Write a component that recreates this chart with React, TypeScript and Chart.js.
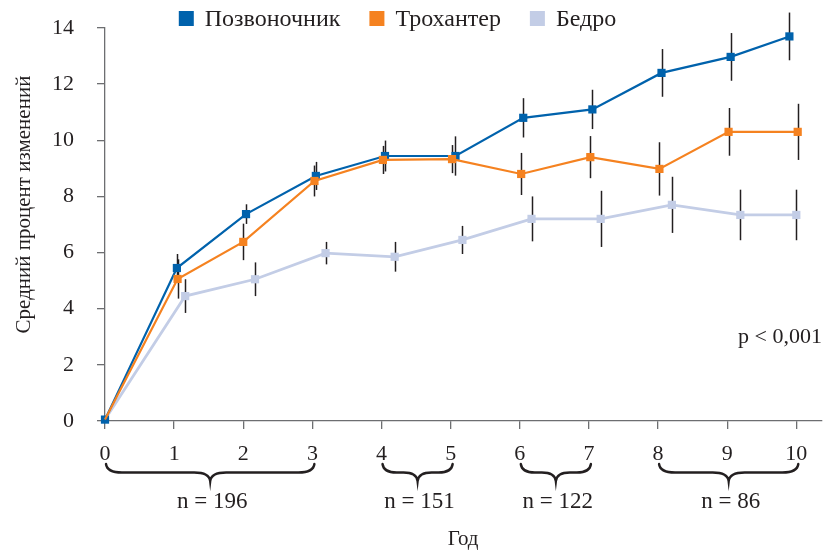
import React, { useEffect, useRef } from 'react';
import { Chart, registerables } from 'chart.js';

Chart.register(...registerables);

const seriesNames = ['Позвоночник', 'Трохантер', 'Бедро'];
const seriesColors = ['#0062AC', '#F58220', '#C3CDE6'];
const seriesLineWidths = [2.2, 2.2, 2.8];

const yearTicks = [0, 1, 2, 3, 4, 5, 6, 7, 8, 9, 10];

const spineX = [0, 1.04, 2.04, 3.05, 4.05, 5.07, 6.05, 7.05, 8.05, 9.05, 9.9];
const spineY = [0.05, 5.45, 7.37, 8.73, 9.44, 9.44, 10.8, 11.1, 12.4, 12.97, 13.7];
const spineErr = [0, 0.5, 0.35, 0.5, 0.55, 0.7, 0.7, 0.7, 0.85, 0.85, 0.85];

const trochX = [0, 1.05, 2.0, 3.03, 4.02, 5.02, 6.02, 7.02, 8.02, 9.02, 10.02];
const trochY = [0.05, 5.06, 6.38, 8.55, 9.3, 9.33, 8.8, 9.4, 8.98, 10.3, 10.3];
const trochErr = [0, 0.7, 0.65, 0.55, 0.5, 0.5, 0.75, 0.75, 0.95, 0.85, 1.0];

const hipX = [0, 1.16, 2.17, 3.19, 4.19, 5.17, 6.17, 7.17, 8.2, 9.19, 10.0];
const hipY = [0.05, 4.45, 5.05, 5.98, 5.85, 6.45, 7.2, 7.2, 7.7, 7.34, 7.34];
const hipErr = [0, 0.6, 0.6, 0.4, 0.53, 0.5, 0.8, 1.0, 1.0, 0.9, 0.9];

const groupStart = [0, 4, 6, 8];
const groupEnd = [3, 5, 7, 10];
const groupLabels = ['n = 196', 'n = 151', 'n = 122', 'n = 86'];

const yTitle = 'Средний процент изменений';
const xTitle = 'Год';
const pText = 'p < 0,001';
const pTextPos = { x: 10.37, y: 3.0 };

const FONT = "'Liberation Serif', 'Times New Roman', serif";
const TEXT = '#231F20';
const AXIS = '#6d6e71';

function drawBrace(ctx: CanvasRenderingContext2D, x1: number, x2: number, y: number, h: number) {
  const mid = (x1 + x2) / 2;
  const ym = y + h * 0.5;
  const r = Math.min(16, (x2 - x1) / 5);
  ctx.beginPath();
  ctx.moveTo(x1, y);
  ctx.quadraticCurveTo(x1 + 1, ym, x1 + r, ym);
  ctx.lineTo(mid - r, ym);
  ctx.quadraticCurveTo(mid - 1, ym, mid, y + h);
  ctx.quadraticCurveTo(mid + 1, ym, mid + r, ym);
  ctx.lineTo(x2 - r, ym);
  ctx.quadraticCurveTo(x2 - 1, ym, x2, y);
  ctx.stroke();
}

const errorBarPlugin = {
  id: 'errorBars',
  beforeDatasetsDraw(chart: any) {
    const ctx = chart.ctx;
    const xs = chart.scales.x;
    const ys = chart.scales.y;
    ctx.save();
    ctx.strokeStyle = TEXT;
    ctx.lineWidth = 1.5;
    chart.data.datasets.forEach((ds: any) => {
      const errs: number[] = ds.errors || [];
      ds.data.forEach((p: any, i: number) => {
        const e = errs[i];
        if (!e) return;
        const px = Math.round(xs.getPixelForValue(p.x)) + 0.5;
        ctx.beginPath();
        ctx.moveTo(px, ys.getPixelForValue(p.y + e));
        ctx.lineTo(px, ys.getPixelForValue(p.y - e));
        ctx.stroke();
      });
    });
    ctx.restore();
  },
};

const decorPlugin = {
  id: 'decor',
  afterDraw(chart: any) {
    const ctx: CanvasRenderingContext2D = chart.ctx;
    const xs = chart.scales.x;
    const ys = chart.scales.y;
    const area = chart.chartArea;
    ctx.save();
    ctx.fillStyle = TEXT;
    ctx.strokeStyle = TEXT;

    // braces and n labels
    ctx.lineWidth = 2.4;
    ctx.lineCap = 'round';
    ctx.font = `23px ${FONT}`;
    ctx.textAlign = 'center';
    ctx.textBaseline = 'middle';
    groupStart.forEach((s, i) => {
      const x1 = xs.getPixelForValue(s) + 1;
      const x2 = xs.getPixelForValue(groupEnd[i]) + 2;
      drawBrace(ctx, x1, x2, area.bottom + 43, 17);
      ctx.fillText(groupLabels[i], (x1 + x2) / 2 + 2, area.bottom + 81);
    });

    // x title
    ctx.font = `21px ${FONT}`;
    ctx.fillText(xTitle, (area.left + area.right) / 2, area.bottom + 118);

    // p text
    ctx.font = `22px ${FONT}`;
    ctx.textAlign = 'right';
    ctx.fillText(pText, xs.getPixelForValue(pTextPos.x), ys.getPixelForValue(pTextPos.y));

    // y title
    ctx.font = `21px ${FONT}`;
    ctx.save();
    ctx.translate(24, (area.top + area.bottom) / 2 - 20);
    ctx.rotate(-Math.PI / 2);
    ctx.textAlign = 'center';
    ctx.fillText(yTitle, 0, 0);
    ctx.restore();

    // legend
    ctx.font = `24px ${FONT}`;
    ctx.textAlign = 'left';
    const box = 15;
    const gapBoxText = 11;
    const gapItems = 29;
    const widths = seriesNames.map((n) => ctx.measureText(n).width);
    const total = widths.reduce((a, w) => a + box + gapBoxText + w, 0) + gapItems * (seriesNames.length - 1);
    let x = 397.5 - total / 2;
    const ly = 19;
    seriesNames.forEach((n, i) => {
      ctx.fillStyle = seriesColors[i];
      ctx.fillRect(x, ly - box / 2 - 0.5, box, box);
      ctx.fillStyle = TEXT;
      ctx.fillText(n, x + box + gapBoxText, ly + 1);
      x += box + gapBoxText + widths[i] + gapItems;
    });
    ctx.restore();
  },
};

function makeData(xs: number[], ys: number[]) {
  return xs.map((x, i) => ({ x, y: ys[i] }));
}

export default function App() {
  const ref = useRef<HTMLCanvasElement | null>(null);
  useEffect(() => {
    if (!ref.current) return;
    const radius = 5.8;
    const hideFirst = (n: number) => Array.from({ length: n }, (_, i) => (i === 0 ? 0 : radius));
    const chart = new Chart(ref.current, {
      type: 'line',
      data: {
        datasets: [
          {
            label: seriesNames[1],
            data: makeData(trochX, trochY),
            errors: trochErr,
            borderColor: seriesColors[1],
            backgroundColor: seriesColors[1],
            borderWidth: seriesLineWidths[1],
            pointStyle: 'rect',
            pointRadius: hideFirst(trochX.length),
            pointBorderWidth: 0,
            clip: false,
          } as any,
          {
            label: seriesNames[0],
            data: makeData(spineX, spineY),
            errors: spineErr,
            borderColor: seriesColors[0],
            backgroundColor: seriesColors[0],
            borderWidth: seriesLineWidths[0],
            pointStyle: 'rect',
            pointRadius: radius,
            pointBorderWidth: 0,
            clip: false,
          } as any,
          {
            label: seriesNames[2],
            data: makeData(hipX, hipY),
            errors: hipErr,
            borderColor: seriesColors[2],
            backgroundColor: seriesColors[2],
            borderWidth: seriesLineWidths[2],
            pointStyle: 'rect',
            pointRadius: hideFirst(hipX.length),
            pointBorderWidth: 0,
            clip: false,
          } as any,
        ],
      },
      options: {
        responsive: false,
        animation: false,
        events: [],
        layout: { padding: { top: 28, right: 0, left: 0, bottom: 0 } },
        plugins: { legend: { display: false }, tooltip: { enabled: false }, title: { display: false } },
        scales: {
          x: {
            type: 'linear',
            min: 0,
            max: 10.36,
            afterBuildTicks: (scale: any) => {
              scale.ticks = yearTicks.map((v) => ({ value: v }));
            },
            afterFit: (scale: any) => {
              scale.height = 131;
              scale.paddingLeft = 0;
              scale.paddingRight = 0;
            },
            ticks: { font: { family: FONT, size: 22 }, color: TEXT, padding: 12, maxRotation: 0, autoSkip: false },
            grid: { drawOnChartArea: false, drawTicks: true, tickLength: 8, color: AXIS, lineWidth: 1.3 },
            border: { color: AXIS, width: 1.3 },
          },
          y: {
            type: 'linear',
            min: 0,
            max: 14,
            ticks: { stepSize: 2, font: { family: FONT, size: 22 }, color: TEXT, padding: 23 },
            afterFit: (scale: any) => {
              scale.width = 105;
              scale.paddingTop = 0;
              scale.paddingBottom = 0;
            },
            grid: { drawOnChartArea: false, drawTicks: true, tickLength: 8, color: AXIS, lineWidth: 1.3 },
            border: { color: AXIS, width: 1.3 },
          },
        },
      } as any,
      plugins: [errorBarPlugin, decorPlugin],
    });
    return () => chart.destroy();
  }, []);
  return (
    <div style={{ position: 'absolute', left: 0, top: 0, width: 827, height: 552, background: '#fff' }}>
      <canvas ref={ref} width={827} height={552} />
    </div>
  );
}
